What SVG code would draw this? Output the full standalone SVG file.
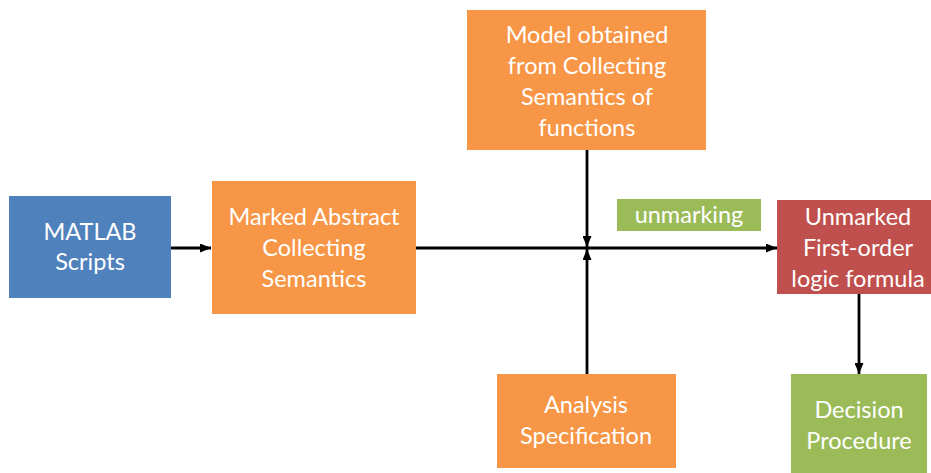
<svg xmlns="http://www.w3.org/2000/svg" width="931" height="473" viewBox="0 0 931 473">
<defs>
<style>
.t{font-family:Lato,"Open Sans","Liberation Sans",sans-serif;font-size:23.5px;fill:#ffffff;text-anchor:middle}
.c{stroke:#000;stroke-width:2.8;fill:none}
</style>
<marker id="ah" markerWidth="11" markerHeight="9" refX="11" refY="4.5" orient="auto" markerUnits="userSpaceOnUse">
<path d="M0,0 L11,4.5 L0,9 Z" fill="#000"/>
</marker>
</defs>
<rect width="931" height="473" fill="#ffffff"/>
<g id="connectors">
<line class="c" x1="171" y1="248" x2="211" y2="248" marker-end="url(#ah)"/>
<line class="c" x1="416" y1="248" x2="777" y2="248" marker-end="url(#ah)"/>
<line class="c" x1="587" y1="150" x2="587" y2="247" marker-end="url(#ah)"/>
<line class="c" x1="587" y1="374" x2="587" y2="249" marker-end="url(#ah)"/>
<line class="c" x1="859" y1="294" x2="859" y2="374" marker-end="url(#ah)"/>
</g>
<g id="matlab">
<rect x="9" y="196" width="162" height="102" fill="#4f81bd"/>
<text class="t" x="90" y="240">MATLAB</text>
<text class="t" x="90" y="270">Scripts</text>
</g>
<g id="marked">
<rect x="212" y="181" width="204" height="133" fill="#f79646"/>
<text class="t" x="314" y="225">Marked Abstract</text>
<text class="t" x="314" y="256">Collecting</text>
<text class="t" x="314" y="287">Semantics</text>
</g>
<g id="model">
<rect x="467" y="10" width="239" height="140" fill="#f79646"/>
<text class="t" x="587" y="43">Model obtained</text>
<text class="t" x="587" y="74">from Collecting</text>
<text class="t" x="587" y="105">Semantics of</text>
<text class="t" x="587" y="136">functions</text>
</g>
<g id="unmarking">
<rect x="617" y="199" width="144" height="32" fill="#9bbb59"/>
<text class="t" x="689" y="223">unmarking</text>
</g>
<g id="unmarked">
<rect x="777" y="200" width="154" height="94" fill="#c0504d"/>
<text class="t" x="858" y="225">Unmarked</text>
<text class="t" x="858" y="256">First-order</text>
<text class="t" x="858" y="287">logic formula</text>
</g>
<g id="decision">
<rect x="791" y="374" width="136" height="99" fill="#9bbb59"/>
<text class="t" x="859" y="418">Decision</text>
<text class="t" x="859" y="449">Procedure</text>
</g>
<g id="analysis">
<rect x="497" y="374" width="179" height="94" fill="#f79646"/>
<text class="t" x="586" y="413">Analysis</text>
<text class="t" x="586" y="444">Specification</text>
</g>
</svg>
